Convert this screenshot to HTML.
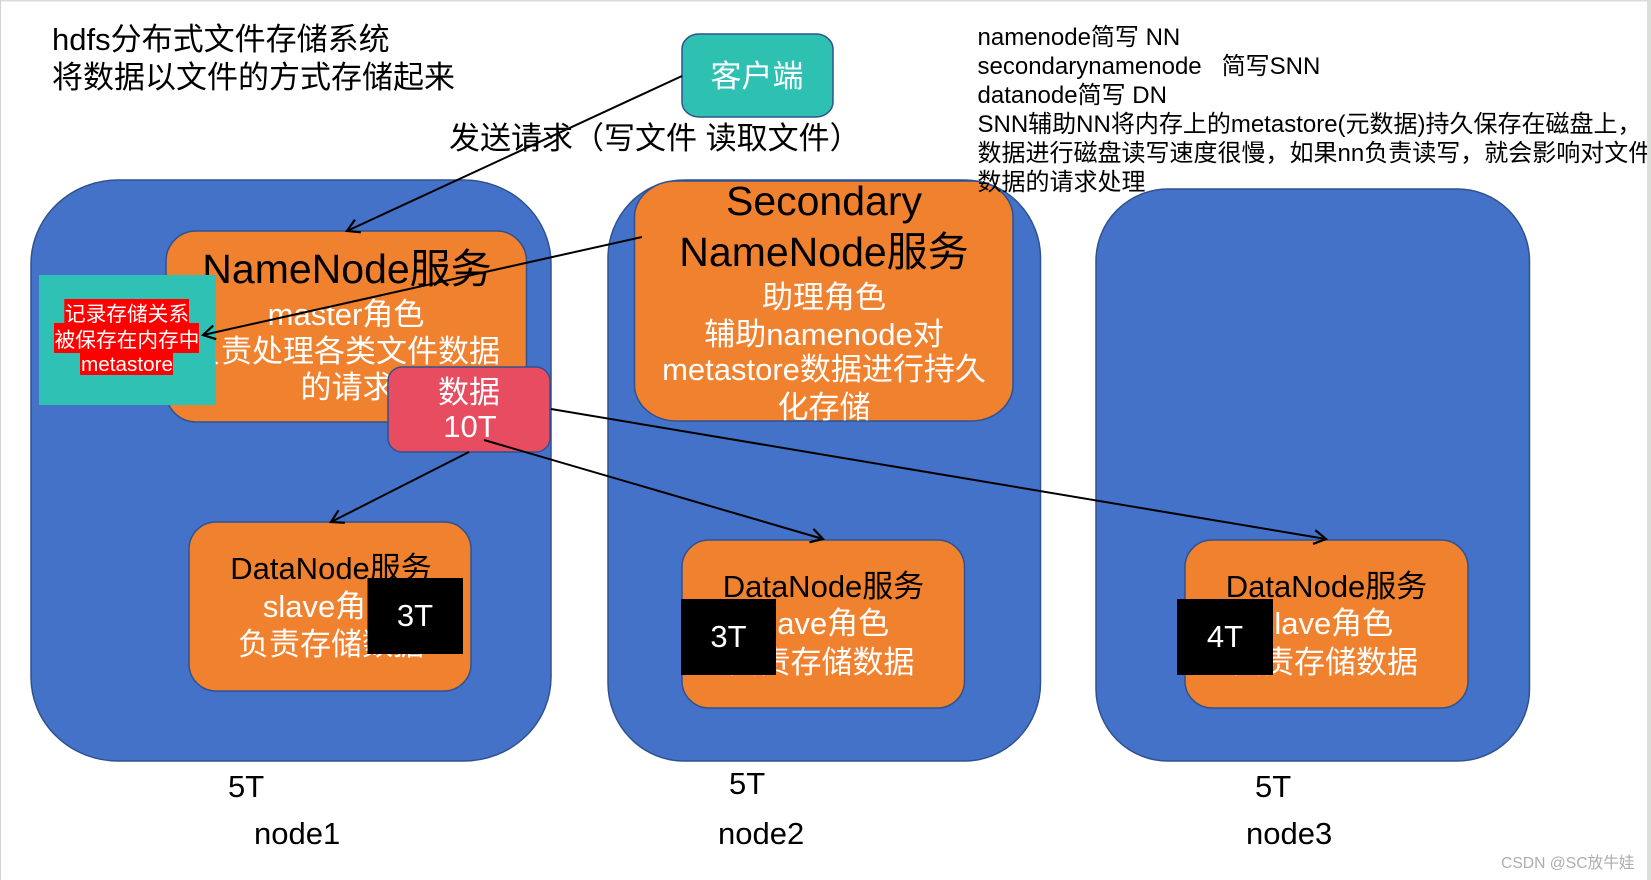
<!DOCTYPE html>
<html lang="zh-CN">
<head>
<meta charset="utf-8">
<title>hdfs</title>
<style>
html,body{margin:0;padding:0;background:#fff;width:1651px;height:880px;overflow:hidden}
svg{display:block}
text{font-family:"Liberation Sans","Noto Sans CJK SC",sans-serif;white-space:pre}
.c{text-anchor:middle}
.w{fill:#fff}
.k{fill:#000}
.s31{font-size:31px}
.s41{font-size:41px}
.s24{font-size:24px}
.s21{font-size:20.7px}
.b{stroke:#2f528f;stroke-width:1.5}
.l{stroke:#000;fill:none;stroke-width:2;marker-end:url(#a)}
</style>
</head>
<body>
<svg width="1651" height="880" viewBox="0 0 1651 880" xmlns="http://www.w3.org/2000/svg">
<defs>
<marker id="a" markerUnits="userSpaceOnUse" markerWidth="24" markerHeight="24" viewBox="-20 -10 24 20" refX="0" refY="0" orient="auto">
<path d="M-12,-7 L0,0 L-12,7" fill="none" stroke="#000" stroke-width="2.2"/>
</marker>
</defs>
<rect x="0" y="0" width="1651" height="880" fill="#fff"/>

<!-- node containers -->
<rect class="b" x="31" y="180" width="520" height="581" rx="87" ry="84" fill="#4472c8"/>
<rect class="b" x="608" y="180" width="432.5" height="581" rx="76" ry="78" fill="#4472c8"/>
<rect class="b" x="1096" y="189" width="433.5" height="572" rx="72" ry="72" fill="#4472c8"/>

<!-- client -->
<rect class="b" x="682" y="34" width="151" height="83" rx="17" ry="15" fill="#2ec1b2"/>
<text class="c w s31" x="757" y="87">客户端</text>

<!-- NameNode -->
<rect class="b" x="166" y="231" width="360.5" height="191" rx="30" ry="30" fill="#f0822f"/>
<text class="c k s41" x="347" y="283">NameNode服务</text>
<text class="c w s31" x="346" y="325">master角色</text>
<text class="c w s31" x="345" y="362">负责处理各类文件数据</text>
<text class="c w s31" x="347" y="398">的请求</text>

<!-- Secondary NameNode -->
<rect class="b" x="634.5" y="181" width="378.5" height="240" rx="42" ry="36" fill="#f0822f"/>
<text class="c k s41" x="824" y="215">Secondary</text>
<text class="c k s41" x="824" y="266">NameNode服务</text>
<text class="c w s31" x="824" y="308">助理角色</text>
<text class="c w s31" x="824" y="345">辅助namenode对</text>
<text class="c w s31" x="824" y="380">metastore数据进行持久</text>
<text class="c w s31" x="824" y="418">化存储</text>

<!-- metastore note -->
<rect x="39" y="275" width="176.7" height="130" fill="#2ec1b4"/>
<rect x="64.3" y="299" width="124.7" height="24.5" fill="#ff0000"/>
<rect x="54" y="323" width="145" height="30" fill="#ff0000"/>
<rect x="80" y="353" width="93" height="22" fill="#ff0000"/>
<text class="c w s21" x="127" y="321">记录存储关系</text>
<text class="c w s21" x="127" y="347">被保存在内存中</text>
<text class="c w s21" x="127" y="371">metastore</text>

<!-- DataNodes -->
<rect class="b" x="189" y="522" width="282" height="169" rx="27" ry="27" fill="#f0822f"/>
<text class="c k s31" x="331" y="579">DataNode服务</text>
<text class="c w s31" x="330" y="617">slave角色</text>
<text class="c w s31" x="331" y="655">负责存储数据</text>

<rect class="b" x="682" y="540" width="282.5" height="168" rx="27" ry="27" fill="#f0822f"/>
<text class="c k s31" x="823.5" y="597">DataNode服务</text>
<text class="c w s31" x="822" y="634">slave角色</text>
<text class="c w s31" x="821.5" y="673">负责存储数据</text>

<rect class="b" x="1185" y="540" width="283" height="168" rx="27" ry="27" fill="#f0822f"/>
<text class="c k s31" x="1326.5" y="597">DataNode服务</text>
<text class="c w s31" x="1326" y="634">slave角色</text>
<text class="c w s31" x="1325" y="673">负责存储数据</text>

<!-- data box -->
<rect class="b" x="388" y="367" width="162" height="85" rx="14" ry="14" fill="#e84c60"/>
<text class="c w s31" x="469" y="403">数据</text>
<text class="c w s31" x="470" y="437">10T</text>

<!-- black labels -->
<rect x="367.5" y="578" width="95.5" height="76" fill="#000"/>
<text class="c w s31" x="415" y="626">3T</text>
<rect x="681" y="599" width="95" height="76" fill="#000"/>
<text class="c w s31" x="728.5" y="647">3T</text>
<rect x="1177" y="599" width="96" height="76" fill="#000"/>
<text class="c w s31" x="1225" y="647">4T</text>

<!-- connectors -->
<line class="l" x1="682" y1="76" x2="347" y2="231"/>
<line class="l" x1="642" y1="237" x2="203" y2="335"/>
<line class="l" x1="469" y1="452" x2="331" y2="522"/>
<line class="l" x1="484" y1="440" x2="823" y2="539"/>
<line class="l" x1="551" y1="409" x2="1326" y2="539"/>

<!-- free text -->
<text class="k s31" x="52" y="50">hdfs分布式文件存储系统</text>
<text class="k s31" x="52" y="88">将数据以文件的方式存储起来</text>
<text class="k s31" x="449" y="149">发送请求（写文件 读取文件）</text>

<text class="k s24" x="977.5" y="45">namenode简写 NN</text>
<text class="k s24" x="977.5" y="74">secondarynamenode   简写SNN</text>
<text class="k s24" x="977.5" y="103">datanode简写 DN</text>
<text class="k s24" x="977.5" y="132">SNN辅助NN将内存上的metastore(元数据)持久保存在磁盘上，</text>
<text class="k s24" x="977.5" y="161">数据进行磁盘读写速度很慢，如果nn负责读写，就会影响对文件</text>
<text class="k s24" x="977.5" y="190">数据的请求处理</text>

<text class="k s31" x="228" y="797">5T</text>
<text class="k s31" x="729" y="794">5T</text>
<text class="k s31" x="1255" y="797">5T</text>
<text class="k s31" x="254" y="844">node1</text>
<text class="k s31" x="718" y="844">node2</text>
<text class="k s31" x="1246" y="844">node3</text>

<text x="1501" y="868" style="font-size:15.7px;fill:#adadad">CSDN @SC放牛娃</text>

<!-- window edges -->
<rect x="0" y="0" width="1651" height="1.5" fill="#d6dfd6"/>
<rect x="0" y="0" width="1" height="880" fill="#d0d0d0"/>
<rect x="1647" y="0" width="4" height="880" fill="#d8e0d8"/>
</svg>
</body>
</html>
